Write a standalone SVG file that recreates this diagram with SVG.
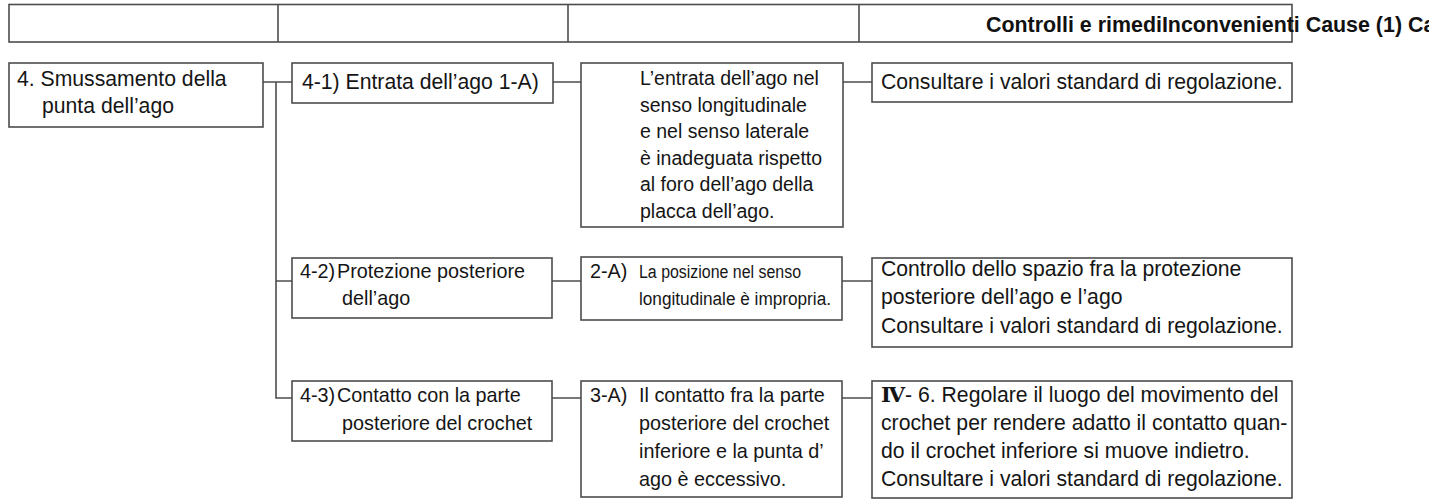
<svg xmlns="http://www.w3.org/2000/svg" width="1429" height="504" viewBox="0 0 1429 504">
<style>
.bx{fill:#fff;stroke:#4d4d4d;stroke-width:1.6}
.ln{fill:none;stroke:#4d4d4d;stroke-width:1.6}
.t{font-family:"Liberation Sans",Arial,Helvetica,sans-serif;font-size:21.2px;fill:#151515}
.s{font-size:19.8px}
.m{font-size:19.5px}
.h{font-family:"Liberation Sans",Arial,Helvetica,sans-serif;font-size:21.4px;font-weight:bold;fill:#111}
.c{font-family:"Liberation Sans",Arial,Helvetica,sans-serif;font-size:18px;fill:#151515}
.r{font-family:"DejaVu Serif","Liberation Serif",serif;font-weight:bold}
</style>
<rect width="1429" height="504" fill="#fff"/>
<g id="header">
<rect class="bx" x="9" y="4.5" width="1283" height="37.5"/>
<line class="ln" x1="278" y1="4.5" x2="278" y2="42"/>
<line class="ln" x1="568" y1="4.5" x2="568" y2="42"/>
<line class="ln" x1="859" y1="4.5" x2="859" y2="42"/>
<text class="h" x="986" y="31.5">Controlli e rimediInconvenienti Cause (1) Ca</text>
</g>
<g id="connectors">
<path class="ln" d="M263 82H292M276 82V398H292M276 281H292"/>
<path class="ln" d="M553 82H581M552 281H581M552 398H581"/>
<path class="ln" d="M843 82H872M842 281H872M842 398H872"/>
</g>
<g id="n4">
<rect class="bx" x="9" y="63" width="254" height="64"/>
<text class="t"><tspan x="17" y="86">4. Smussamento della</tspan><tspan x="42" y="112.7">punta dell’ago</tspan></text>
</g>
<g id="n4-1">
<rect class="bx" x="292" y="63" width="261" height="40"/>
<text class="t" x="302" y="88.5">4-1) Entrata dell’ago 1-A)</text>
</g>
<g id="n1A">
<rect class="bx" x="581" y="63" width="262" height="164"/>
<text class="t m"><tspan x="640" y="85">L’entrata dell’ago nel</tspan><tspan x="640" y="111.5">senso longitudinale</tspan><tspan x="640" y="138">e nel senso laterale</tspan><tspan x="640" y="164.5">è inadeguata rispetto</tspan><tspan x="640" y="191">al foro dell’ago della</tspan><tspan x="640" y="217.5">placca dell’ago.</tspan></text>
</g>
<g id="r1">
<rect class="bx" x="872" y="63" width="420" height="39"/>
<text class="t" x="881" y="88.5">Consultare i valori standard di regolazione.</text>
</g>
<g id="n4-2">
<rect class="bx" x="292" y="258" width="260" height="60"/>
<text class="t s"><tspan x="300" y="277.5">4-2)</tspan><tspan x="337" y="277.5">Protezione posteriore</tspan><tspan x="342" y="305">dell’ago</tspan></text>
</g>
<g id="n2A">
<rect class="bx" x="581" y="257" width="261" height="63"/>
<text class="t s" x="590" y="277.5">2-A)</text>
<text class="c" x="639" y="277.5" textLength="162" lengthAdjust="spacingAndGlyphs">La posizione nel senso</text>
<text class="c" x="639" y="305" textLength="192" lengthAdjust="spacingAndGlyphs">longitudinale è impropria.</text>
</g>
<g id="r2">
<rect class="bx" x="872" y="258" width="420" height="89"/>
<text class="t"><tspan x="881" y="275.5">Controllo dello spazio fra la protezione</tspan><tspan x="881" y="304.2">posteriore dell’ago e l’ago</tspan><tspan x="881" y="332.9">Consultare i valori standard di regolazione.</tspan></text>
</g>
<g id="n4-3">
<rect class="bx" x="292" y="381" width="260" height="60"/>
<text class="t s"><tspan x="300" y="401.5">4-3)</tspan><tspan x="337" y="401.5">Contatto con la parte</tspan><tspan x="342" y="430">posteriore del crochet</tspan></text>
</g>
<g id="n3A">
<rect class="bx" x="581" y="381" width="261" height="116"/>
<text class="t s" x="590" y="401.5">3-A)</text>
<text class="t s"><tspan x="639" y="401.5">Il contatto fra la parte</tspan><tspan x="639" y="429.8">posteriore del crochet</tspan><tspan x="639" y="458.1">inferiore e la punta d’</tspan><tspan x="639" y="486.4">ago è eccessivo.</tspan></text>
</g>
<g id="r3">
<rect class="bx" x="872" y="381" width="420" height="117"/>
<text class="t"><tspan x="881" y="401.5"><tspan class="r">Ⅳ</tspan>- 6. Regolare il luogo del movimento del</tspan><tspan x="881" y="429.5">crochet per rendere adatto il contatto quan-</tspan><tspan x="881" y="457.5">do il crochet inferiore si muove indietro.</tspan><tspan x="881" y="485.5">Consultare i valori standard di regolazione.</tspan></text>
</g>
</svg>
